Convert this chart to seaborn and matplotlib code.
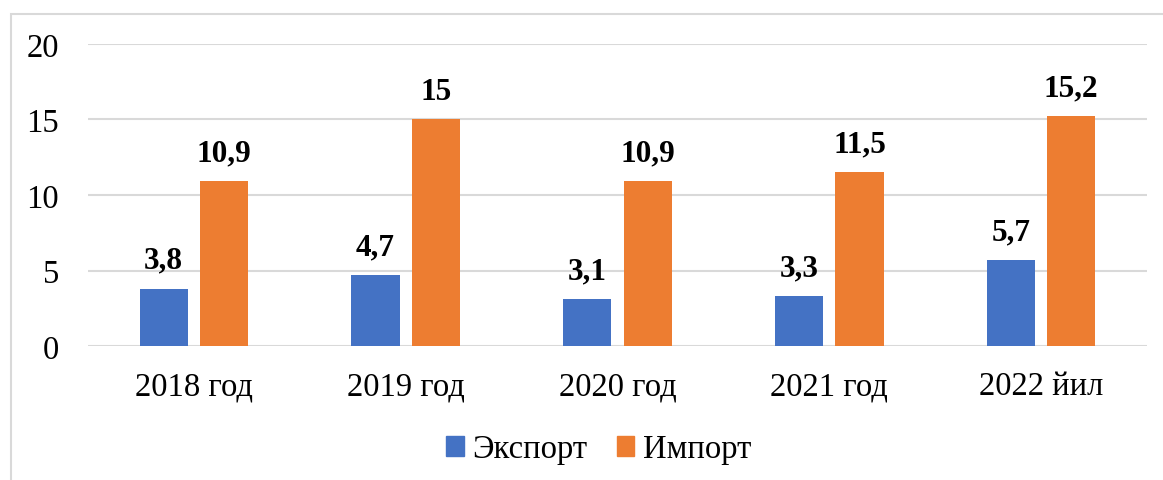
import pandas as pd
import seaborn as sns
import matplotlib.pyplot as plt
from matplotlib.patches import Rectangle

years = ['2018 год', '2019 год', '2020 год', '2021 год', '2022 йил']
export_vals = [3.8, 4.7, 3.1, 3.3, 5.7]
import_vals = [10.9, 15, 10.9, 11.5, 15.2]
series = ['Экспорт', 'Импорт']
colors = ['#4472C4', '#ED7D31']

df = pd.DataFrame({
    'year': years * 2,
    'value': export_vals + import_vals,
    'kind': [series[0]] * len(years) + [series[1]] * len(years),
})

sns.set_style('white')
plt.rcParams['font.family'] = ['Liberation Serif', 'DejaVu Serif']
plt.rcParams['text.color'] = 'black'
plt.rcParams['xtick.color'] = 'black'
plt.rcParams['ytick.color'] = 'black'

fig = plt.figure(figsize=(11.63, 4.81), dpi=100)
ax = fig.add_axes([88 / 1163, 1 - 347 / 481, (1147 - 88) / 1163, (347 - 45) / 481])

sns.barplot(data=df, x='year', y='value', hue='kind', palette=colors,
            saturation=1, width=0.57, gap=0.2, ax=ax, legend=False,
            edgecolor='none', linewidth=0)

for cont in ax.containers:
    labels = [f'{v:g}'.replace('.', ',') for v in cont.datavalues]
    ax.bar_label(cont, labels=labels, padding=10, fontsize=22.5,
                 fontweight='bold', color='black')

ax.set_ylim(0, 20)
ax.set_yticks([0, 5, 10, 15, 20])
ax.set_xlim(-0.5, 4.5)
ax.yaxis.grid(True, color='#D9D9D9', linewidth=1.5)
ax.set_axisbelow(True)
sns.despine(ax=ax, left=True, bottom=True, top=True, right=True)
ax.tick_params(axis='both', length=0, labelsize=23.5)
ax.tick_params(axis='y', pad=21)
ax.tick_params(axis='x', pad=18)
ax.set_xlabel('')
ax.set_ylabel('')

handles = [Rectangle((0, 0), 1, 1, color=c) for c in colors]
fig.legend(handles, series, loc='center', bbox_to_anchor=(0.5146, 1 - 450 / 481),
           ncol=2, frameon=False, fontsize=23.5, handlelength=0.55, handleheight=0.55,
           handletextpad=0.25, columnspacing=0.9)

fig.patches.append(Rectangle((11 / 1163, -0.05), 1.1, 1 - 15 / 481 + 0.05,
                             transform=fig.transFigure, fill=False,
                             edgecolor='#D9D9D9', linewidth=1.5))

fig.savefig('out.png', dpi=100)
